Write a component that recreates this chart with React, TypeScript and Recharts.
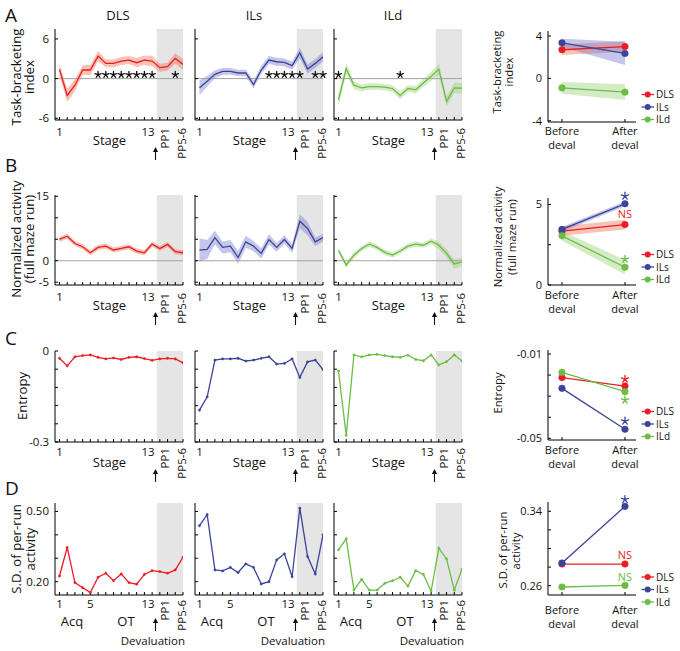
import React from "react";
import {
  Area,
  ComposedChart,
  Line,
  ReferenceArea,
  ReferenceDot,
  ReferenceLine,
  XAxis,
  YAxis,
} from "recharts";

const FONT = "'Open Sans', sans-serif";
const RED = "#ec1c24";
const BLUE = "#3c4399";
const GREEN = "#6cbd45";
const RED_BAND = "rgba(238,105,70,0.4)";
const BLUE_BAND = "rgba(108,112,202,0.4)";
const GREEN_BAND = "rgba(150,205,112,0.4)";

// stages 1..13 training, 14 = PP1, 15 = PP2, 16 = PP3-4, 17 = PP5-6
const stages = [1, 2, 3, 4, 5, 6, 7, 8, 9, 10, 11, 12, 13, 14, 15, 16, 17];
const stageLabels: [number, string][] = [[1, "1"], [13, "13"], [14, "PP1"], [17, "PP5-6"]];
const stageLabelsD: [number, string][] = [[1, "1"], [5, "5"], [13, "13"], [14, "PP1"], [17, "PP5-6"]];
const phaseLabels = [["Before", "deval"], ["After", "deval"]];

// A: task-bracketing index
const tbiDls = [1.4, -2.55, -1.0, 1.3, 1.3, 3.4, 2.3, 2.3, 2.65, 2.8, 2.4, 2.8, 2.65, 1.65, 1.8, 3.05, 2.15];
const tbiDlsErr = [0.9, 1.0, 0.9, 0.7, 0.8, 0.8, 0.6, 0.6, 0.6, 0.6, 0.7, 0.7, 0.8, 0.6, 0.6, 0.8, 0.8];
const tbiIls = [-1.4, -0.4, 0.65, 1.1, 1.1, 0.85, 0.85, -0.9, 1.3, 2.8, 2.55, 2.45, 1.95, 3.9, 1.45, 2.3, 3.3];
const tbiIlsErr = [1.1, 0.8, 0.6, 0.5, 0.5, 0.5, 0.5, 0.6, 0.6, 0.6, 0.6, 0.6, 0.6, 0.8, 0.7, 0.7, 0.7];
const tbiIld = [-3.2, 1.5, -1.0, -1.4, -1.2, -1.2, -1.3, -1.5, -2.55, -1.5, -1.7, -0.65, 0.35, 1.4, -3.45, -1.4, -1.45];
const tbiIldErr = [1.0, 0.8, 0.6, 0.5, 0.5, 0.5, 0.5, 0.5, 0.6, 0.5, 0.6, 0.6, 0.7, 0.9, 0.8, 0.8, 0.8];
const tbiStarsDls = [6, 7, 8, 9, 10, 11, 12, 13, 16];
const tbiStarsIls = [10, 11, 12, 13, 14, 16, 17];
const tbiStarsIld = [1, 9];

// B: normalized activity (full maze run)
const actDls = [4.95, 5.7, 4.0, 3.25, 1.85, 3.1, 3.4, 2.5, 2.85, 3.25, 2.25, 1.85, 3.85, 2.85, 3.8, 2.1, 1.85];
const actDlsErr = [0.6, 0.6, 0.6, 0.6, 0.6, 0.6, 0.6, 0.6, 0.6, 0.6, 0.6, 0.6, 0.6, 0.6, 0.6, 0.6, 0.6];
const actIls = [2.45, 2.65, 5.4, 3.1, 3.4, 0.75, 4.4, 3.4, 1.7, 4.95, 3.1, 4.95, 2.85, 9.2, 7.5, 4.4, 5.4];
const actIlsErr = [2.8, 2.2, 1.6, 1.4, 1.4, 1.5, 1.4, 1.2, 1.2, 1.2, 1.0, 1.0, 1.0, 1.6, 1.6, 1.0, 0.9];
const actIld = [2.45, -1.0, 1.3, 2.85, 3.85, 3.1, 1.95, 1.3, 2.25, 3.4, 3.85, 3.6, 4.55, 3.6, 1.7, -0.75, -0.25];
const actIldErr = [0.6, 0.7, 0.7, 0.6, 0.6, 0.6, 0.6, 0.6, 0.6, 0.6, 0.6, 0.6, 0.7, 0.9, 1.0, 1.1, 1.0];

// C: entropy
const entDls = [-0.024, -0.049, -0.019, -0.015, -0.013, -0.021, -0.026, -0.023, -0.028, -0.021, -0.019, -0.025, -0.031, -0.026, -0.024, -0.026, -0.039];
const entIls = [-0.195, -0.151, -0.03, -0.026, -0.026, -0.024, -0.033, -0.03, -0.024, -0.019, -0.043, -0.041, -0.026, -0.087, -0.036, -0.03, -0.061];
const entIld = [-0.066, -0.278, -0.013, -0.019, -0.013, -0.011, -0.015, -0.019, -0.021, -0.014, -0.028, -0.032, -0.013, -0.046, -0.035, -0.013, -0.033];

// D: S.D. of per-run activity
const sdDls = [0.224, 0.346, 0.196, 0.174, 0.153, 0.219, 0.236, 0.204, 0.233, 0.196, 0.189, 0.231, 0.247, 0.243, 0.236, 0.25, 0.304];
const sdIls = [0.439, 0.486, 0.25, 0.246, 0.261, 0.239, 0.276, 0.261, 0.19, 0.2, 0.293, 0.319, 0.221, 0.514, 0.307, 0.233, 0.4];
const sdIld = [0.336, 0.383, 0.164, 0.21, 0.164, 0.164, 0.193, 0.204, 0.219, 0.181, 0.247, 0.231, 0.16, 0.343, 0.297, 0.164, 0.253];

// summaries: [before, after]
const sumTbiDls = [2.7, 3.0];
const sumTbiDlsErr = [0.5, 0.5];
const sumTbiIls = [3.35, 2.35];
const sumTbiIlsErr = [0.4, 1.1];
const sumTbiIld = [-0.9, -1.3];
const sumTbiIldErr = [0.55, 0.75];

const sumActDls = [3.35, 3.75];
const sumActDlsErr = [0.3, 0.3];
const sumActIls = [3.45, 5.04];
const sumActIlsErr = [0.15, 0.15];
const sumActIld = [3.05, 1.1];
const sumActIldErr = [0.3, 0.45];

const sumEntDls = [-0.0212, -0.0252];
const sumEntIls = [-0.0263, -0.0457];
const sumEntIld = [-0.0187, -0.0279];

const sumSdDls = [0.2833, 0.2833];
const sumSdIls = [0.2844, 0.3453];
const sumSdIld = [0.2586, 0.2603];

type Mark = { x: number; y: number; text: string; color: string };
const marksAct: Mark[] = [
  { x: 1, y: 5.52, text: "*", color: BLUE },
  { x: 1, y: 4.37, text: "NS", color: RED },
  { x: 1, y: 1.6, text: "*", color: GREEN },
];
const marksEnt: Mark[] = [
  { x: 1, y: -0.0219, text: "*", color: RED },
  { x: 1, y: -0.0318, text: "*", color: GREEN },
  { x: 1, y: -0.0418, text: "*", color: BLUE },
];
const marksSd: Mark[] = [
  { x: 1, y: 0.3527, text: "*", color: BLUE },
  { x: 1, y: 0.2926, text: "NS", color: RED },
  { x: 1, y: 0.2694, text: "NS", color: GREEN },
];

const colLefts = [55, 195, 334];
const PW = 128;
const YW = 34;
const MT = 12;
const MR = 6;
const XH = 50;

const findLabel = (pairs: [number, string][], v: number) => {
  const p = pairs.find(([k]) => Math.abs(k - v) < 1e-9);
  return p ? p[1] : null;
};

function Asterisk({ cx, cy, color, r = 3.3 }: { cx: number; cy: number; color: string; r?: number }) {
  const d = [0, 72, 144, 216, 288]
    .map((a) => {
      const t = ((a - 90) * Math.PI) / 180;
      return `M${cx},${cy}L${cx + r * Math.cos(t)},${cy + r * Math.sin(t)}`;
    })
    .join("");
  return <path d={d} stroke={color} strokeWidth={1.3} fill="none" strokeLinecap="round" />;
}

// small nudges so "13" and the rotated "PP1" don't collide
const labelShift: Record<string, number> = { "13": -4, PP1: 9, "PP5-6": 3 };

function StageTick(props: any) {
  const { x, y, payload, labels } = props;
  const lab = findLabel(labels, payload.value);
  if (!lab) return <g />;
  const sx = x + (labelShift[lab] || 0);
  if (lab.startsWith("PP")) {
    return (
      <text x={sx} y={y} textAnchor="end" transform={`rotate(-90 ${sx} ${y})`} fontSize={11.5} fill="#111" fontFamily={FONT}>
        {lab}
      </text>
    );
  }
  return (
    <text x={sx} y={y} dy="0.71em" textAnchor="middle" fontSize={11.5} fill="#111" fontFamily={FONT}>
      {lab}
    </text>
  );
}

function ValueTick(props: any) {
  const { x, y, payload, labels, size = 11.5 } = props;
  const lab = findLabel(labels, payload.value);
  if (!lab) return <g />;
  return (
    <text x={x} y={y} dy="0.35em" textAnchor="end" fontSize={size} fill="#111" fontFamily={FONT}>
      {lab}
    </text>
  );
}

function PhaseTick(props: any) {
  const { x, y, payload } = props;
  const lines = phaseLabels[payload.value] || ["", ""];
  return (
    <g>
      <text x={x} y={y} dy="0.71em" textAnchor="middle" fontSize={11} fill="#111" fontFamily={FONT}>
        {lines[0]}
      </text>
      <text x={x} y={y + 14} dy="0.71em" textAnchor="middle" fontSize={11} fill="#111" fontFamily={FONT}>
        {lines[1]}
      </text>
    </g>
  );
}

type TimeProps = {
  left: number;
  top: number;
  bottom: number;
  values: number[];
  err?: number[];
  color: string;
  band?: string;
  domain: [number, number];
  yTicks: number[];
  yLabels: [number, string][];
  zero?: boolean;
  stars?: number[];
  dots?: boolean;
  xLabels: [number, string][];
  gap: number;
};

function TimePanel(p: TimeProps) {
  const h = p.bottom - p.top;
  const W = YW + PW + MR;
  const H = MT + h + XH;
  const data = stages.map((s, i) => ({
    stage: s,
    v: p.values[i],
    band: p.err ? [p.values[i] - p.err[i], p.values[i] + p.err[i]] : null,
  }));
  return (
    <div style={{ position: "absolute", left: p.left - YW, top: p.top - MT, width: W, height: H }}>
      <ComposedChart width={W} height={H} data={data} margin={{ top: MT, right: MR, left: 0, bottom: 0 }}>
        <XAxis
          dataKey="stage"
          type="number"
          domain={[0.42, 17]}
          ticks={stages}
          interval={0}
          allowDataOverflow
          height={XH}
          stroke="#000"
          tickSize={-3}
          tickMargin={p.gap + 3}
          tick={(t: any) => <StageTick {...t} labels={p.xLabels} />}
        />
        <YAxis
          type="number"
          domain={p.domain}
          ticks={p.yTicks}
          interval={0}
          allowDataOverflow
          width={YW}
          stroke="#000"
          tickSize={-3}
          tickMargin={9}
          tick={(t: any) => <ValueTick {...t} labels={p.yLabels} />}
        />
        <ReferenceArea x1={13.6} x2={17} fill="#e5e5e5" fillOpacity={1} stroke="none" />
        {p.err && (
          <Area type="linear" dataKey="band" stroke="none" fill={p.band} fillOpacity={1} isAnimationActive={false} />
        )}
        {p.zero && <ReferenceLine y={0} stroke="#a3a3a3" strokeWidth={1} />}
        <Line
          type="linear"
          dataKey="v"
          stroke={p.color}
          strokeWidth={1.3}
          dot={p.dots ? { r: 1.1, fill: p.color, stroke: p.color, strokeWidth: 0.6 } : false}
          isAnimationActive={false}
        />
        {(p.stars || []).map((s) => (
          <ReferenceDot
            key={s}
            x={s}
            y={0.6}
            r={3}
            ifOverflow="visible"
            shape={(d: any) => <Asterisk cx={d.cx} cy={d.cy} color="#111" />}
          />
        ))}
      </ComposedChart>
    </div>
  );
}

type Series = { values: number[]; err?: number[]; color: string; band: string };

type SumProps = {
  top: number;
  bottom: number;
  series: Series[];
  domain: [number, number];
  yTicks: number[];
  yLabels: [number, string][];
  marks?: Mark[];
  gap: number;
};

const SYW = 40;
const SPW = 88;
const SMR = 4;

function SummaryPanel(p: SumProps) {
  const h = p.bottom - p.top;
  const W = SYW + SPW + SMR;
  const H = MT + h + XH;
  const data = [0, 1].map((x) => {
    const row: any = { x };
    p.series.forEach((s, k) => {
      row["v" + k] = s.values[x];
      if (s.err) row["b" + k] = [s.values[x] - s.err[x], s.values[x] + s.err[x]];
    });
    return row;
  });
  return (
    <div style={{ position: "absolute", left: 548 - SYW, top: p.top - MT, width: W, height: H }}>
      <ComposedChart width={W} height={H} data={data} margin={{ top: MT, right: SMR, left: 0, bottom: 0 }}>
        <XAxis
          dataKey="x"
          type="number"
          domain={[-0.222, 1.175]}
          ticks={[0, 1]}
          interval={0}
          allowDataOverflow
          height={XH}
          stroke="#000"
          tickSize={-3}
          tickMargin={p.gap + 3}
          tick={(t: any) => <PhaseTick {...t} />}
        />
        <YAxis
          type="number"
          domain={p.domain}
          ticks={p.yTicks}
          interval={0}
          allowDataOverflow
          width={SYW}
          stroke="#000"
          tickSize={-3}
          tickMargin={9}
          tick={(t: any) => <ValueTick {...t} labels={p.yLabels} size={11} />}
        />
        {p.series.map((s, k) =>
          s.err ? (
            <Area
              key={"b" + k}
              type="linear"
              dataKey={"b" + k}
              stroke="none"
              fill={s.band}
              fillOpacity={1}
              isAnimationActive={false}
            />
          ) : null
        )}
        {p.series.map((s, k) => (
          <Line
            key={"v" + k}
            type="linear"
            dataKey={"v" + k}
            stroke={s.color}
            strokeWidth={1.3}
            dot={{ r: 3.3, fill: s.color, stroke: s.color, strokeWidth: 0.5 }}
            isAnimationActive={false}
          />
        ))}
        {(p.marks || []).map((m, i) => (
          <ReferenceDot
            key={i}
            x={m.x}
            y={m.y}
            r={3}
            ifOverflow="visible"
            shape={(d: any) =>
              m.text === "*" ? (
                <Asterisk cx={d.cx} cy={d.cy} color={m.color} r={3.8} />
              ) : (
                <text x={d.cx} y={d.cy} dy="0.35em" textAnchor="middle" fontSize={11} fill={m.color} fontFamily={FONT}>
                  {m.text}
                </text>
              )
            }
          />
        ))}
      </ComposedChart>
    </div>
  );
}

const dlsS = (values: number[], err?: number[]): Series => ({ values, err, color: RED, band: RED_BAND });
const ilsS = (values: number[], err?: number[]): Series => ({ values, err, color: BLUE, band: BLUE_BAND });
const ildS = (values: number[], err?: number[]): Series => ({ values, err, color: GREEN, band: GREEN_BAND });

const legendNames = ["DLS", "ILs", "ILd"];
const legendColors = [RED, BLUE, GREEN];
const legendYs = [
  [94.5, 107, 119.5],
  [254.5, 267, 279.5],
  [411.5, 424, 436.5],
  [577, 589.5, 602],
];

function VText({ x, y, size, children }: { x: number; y: number; size: number; children: React.ReactNode }) {
  return (
    <text
      transform={`translate(${x},${y}) rotate(-90)`}
      textAnchor="middle"
      dominantBaseline="central"
      fontSize={size}
      fill="#111"
      fontFamily={FONT}
    >
      {children}
    </text>
  );
}

function Arrow({ x, y1, y2 }: { x: number; y1: number; y2: number }) {
  return (
    <g>
      <line x1={x} y1={y1 + 3} x2={x} y2={y2} stroke="#111" strokeWidth={1.1} />
      <path d={`M${x - 2.6},${y1 + 5}L${x},${y1}L${x + 2.6},${y1 + 5}Z`} fill="#111" />
    </g>
  );
}

function Overlay() {
  const rowAxes = [120, 285, 442, 595];
  return (
    <svg width={680} height={651} style={{ position: "absolute", left: 0, top: 0, pointerEvents: "none" }}>
      {[["A", 22], ["B", 172], ["C", 345], ["D", 495]].map(([t, y]) => (
        <text key={t as string} x={5} y={y as number} fontSize={19} fill="#111" fontFamily={FONT}>
          {t}
        </text>
      ))}
      {[["DLS", 118], ["ILs", 254], ["ILd", 393]].map(([t, x]) => (
        <text key={t as string} x={x as number} y={15} dy="0.35em" textAnchor="middle" fontSize={13} fill="#111" fontFamily={FONT}>
          {t}
        </text>
      ))}
      <VText x={16} y={77} size={13.2}>Task-bracketing</VText>
      <VText x={29} y={77} size={13.2}>index</VText>
      <VText x={16} y={239} size={13.2}>Normalized activity</VText>
      <VText x={29} y={239} size={13.2}>(full maze run)</VText>
      <VText x={22} y={396} size={13.2}>Entropy</VText>
      <VText x={16} y={549} size={13.2}>S.D. of per-run</VText>
      <VText x={30} y={549} size={13.2}>activity</VText>

      <VText x={496} y={72} size={11.3}>Task-bracketing</VText>
      <VText x={508} y={72} size={11.3}>index</VText>
      <VText x={497.5} y={237} size={11.3}>Normalized activity</VText>
      <VText x={511} y={237} size={11.3}>(full maze run)</VText>
      <VText x={497} y={393} size={11.3}>Entropy</VText>
      <VText x={502.5} y={550} size={11.3}>S.D. of per-run</VText>
      <VText x={515} y={551} size={11.3}>activity</VText>

      {colLefts.map((l) => (
        <g key={l}>
          {rowAxes.slice(0, 3).map((ay) => (
            <g key={ay}>
              <text x={l + 54.5} y={ay + 20} dy="0.35em" textAnchor="middle" fontSize={13} fill="#111" fontFamily={FONT}>
                Stage
              </text>
              <Arrow x={l + 100.5} y1={ay + 27} y2={ay + 40} />
            </g>
          ))}
          <text x={l + 17} y={621} dy="0.35em" textAnchor="middle" fontSize={13} fill="#111" fontFamily={FONT}>
            Acq
          </text>
          <text x={l + 71} y={621} dy="0.35em" textAnchor="middle" fontSize={13} fill="#111" fontFamily={FONT}>
            OT
          </text>
          <Arrow x={l + 100.5} y1={618} y2={631} />
          <text x={l + PW + 2} y={641} dy="0.35em" textAnchor="end" fontSize={11.5} fill="#111" fontFamily={FONT}>
            Devaluation
          </text>
        </g>
      ))}

      {legendYs.map((ys, r) => (
        <g key={r}>
          {ys.map((y, k) => (
            <g key={k}>
              <line x1={641.5} x2={654} y1={y} y2={y} stroke={legendColors[k]} strokeWidth={1.3} />
              <circle cx={647.7} cy={y} r={3} fill={legendColors[k]} />
              <text x={656} y={y} dy="0.35em" fontSize={10} fill="#111" fontFamily={FONT}>
                {legendNames[k]}
              </text>
            </g>
          ))}
        </g>
      ))}
    </svg>
  );
}

const rowA = { top: 29, bottom: 120, gap: 8 };
const rowB = { top: 195, bottom: 285, gap: 8 };
const rowC = { top: 351, bottom: 442, gap: 6 };
const rowD = { top: 503, bottom: 595, gap: 5 };

export default function App() {
  const tA = { domain: [-6.26, 7.5] as [number, number], yTicks: [-6, 0, 6], yLabels: [[-6, "-6"], [0, "0"], [6, "6"]] as [number, string][] };
  const tB = { domain: [-5.65, 15.3] as [number, number], yTicks: [-5, 0, 5, 10, 15], yLabels: [[-5, "-5"], [0, "0"], [15, "15"]] as [number, string][] };
  const tC = { domain: [-0.3, 0] as [number, number], yTicks: [-0.3, -0.24, -0.18, -0.12, -0.06, 0], yLabels: [[-0.3, "-0.3"], [0, "0"]] as [number, string][] };
  const tD = { domain: [0.143, 0.536] as [number, number], yTicks: [0.2, 0.3, 0.4, 0.5], yLabels: [[0.2, "0.20"], [0.5, "0.50"]] as [number, string][] };
  const none: [number, string][] = [];
  const cols = [
    { color: RED, band: RED_BAND },
    { color: BLUE, band: BLUE_BAND },
    { color: GREEN, band: GREEN_BAND },
  ];
  const aVals = [tbiDls, tbiIls, tbiIld];
  const aErr = [tbiDlsErr, tbiIlsErr, tbiIldErr];
  const aStars = [tbiStarsDls, tbiStarsIls, tbiStarsIld];
  const bVals = [actDls, actIls, actIld];
  const bErr = [actDlsErr, actIlsErr, actIldErr];
  const cVals = [entDls, entIls, entIld];
  const dVals = [sdDls, sdIls, sdIld];

  return (
    <div
      style={{
        position: "absolute",
        left: 0,
        top: 0,
        width: 680,
        height: 651,
        background: "#fff",
        overflow: "hidden",
        fontFamily: FONT,
      }}
    >
      {colLefts.map((l, i) => (
        <React.Fragment key={l}>
          <TimePanel
            left={l}
            {...rowA}
            {...tA}
            yLabels={i === 0 ? tA.yLabels : none}
            values={aVals[i]}
            err={aErr[i]}
            {...cols[i]}
            zero
            stars={aStars[i]}
            xLabels={stageLabels}
          />
          <TimePanel
            left={l}
            {...rowB}
            {...tB}
            yLabels={i === 0 ? tB.yLabels : none}
            values={bVals[i]}
            err={bErr[i]}
            {...cols[i]}
            zero
            xLabels={stageLabels}
          />
          <TimePanel
            left={l}
            {...rowC}
            {...tC}
            yLabels={i === 0 ? tC.yLabels : none}
            values={cVals[i]}
            {...cols[i]}
            dots
            xLabels={stageLabels}
          />
          <TimePanel
            left={l}
            {...rowD}
            {...tD}
            yLabels={i === 0 ? tD.yLabels : none}
            values={dVals[i]}
            {...cols[i]}
            dots
            xLabels={stageLabelsD}
          />
        </React.Fragment>
      ))}

      <SummaryPanel
        top={31}
        bottom={122}
        gap={5}
        domain={[-4.12, 4.47]}
        yTicks={[-4, 0, 4]}
        yLabels={[[-4, "-4"], [0, "0"], [4, "4"]]}
        series={[dlsS(sumTbiDls, sumTbiDlsErr), ilsS(sumTbiIls, sumTbiIlsErr), ildS(sumTbiIld, sumTbiIldErr)]}
      />
      <SummaryPanel
        top={198}
        bottom={285}
        gap={6}
        domain={[0, 5.4]}
        yTicks={[0, 2.5, 5]}
        yLabels={[[0, "0"], [5, "5"]]}
        series={[dlsS(sumActDls, sumActDlsErr), ilsS(sumActIls, sumActIlsErr), ildS(sumActIld, sumActIldErr)]}
        marks={marksAct}
      />
      <SummaryPanel
        top={350}
        bottom={440}
        gap={6}
        domain={[-0.0508, -0.0081]}
        yTicks={[-0.05, -0.04, -0.03, -0.02, -0.01]}
        yLabels={[[-0.05, "-0.05"], [-0.01, "-0.01"]]}
        series={[dlsS(sumEntDls), ilsS(sumEntIls), ildS(sumEntIld)]}
        marks={marksEnt}
      />
      <SummaryPanel
        top={502}
        bottom={595}
        gap={11}
        domain={[0.25, 0.35]}
        yTicks={[0.26, 0.28, 0.3, 0.32, 0.34]}
        yLabels={[[0.26, "0.26"], [0.34, "0.34"]]}
        series={[dlsS(sumSdDls), ilsS(sumSdIls), ildS(sumSdIld)]}
        marks={marksSd}
      />
      <Overlay />
    </div>
  );
}
